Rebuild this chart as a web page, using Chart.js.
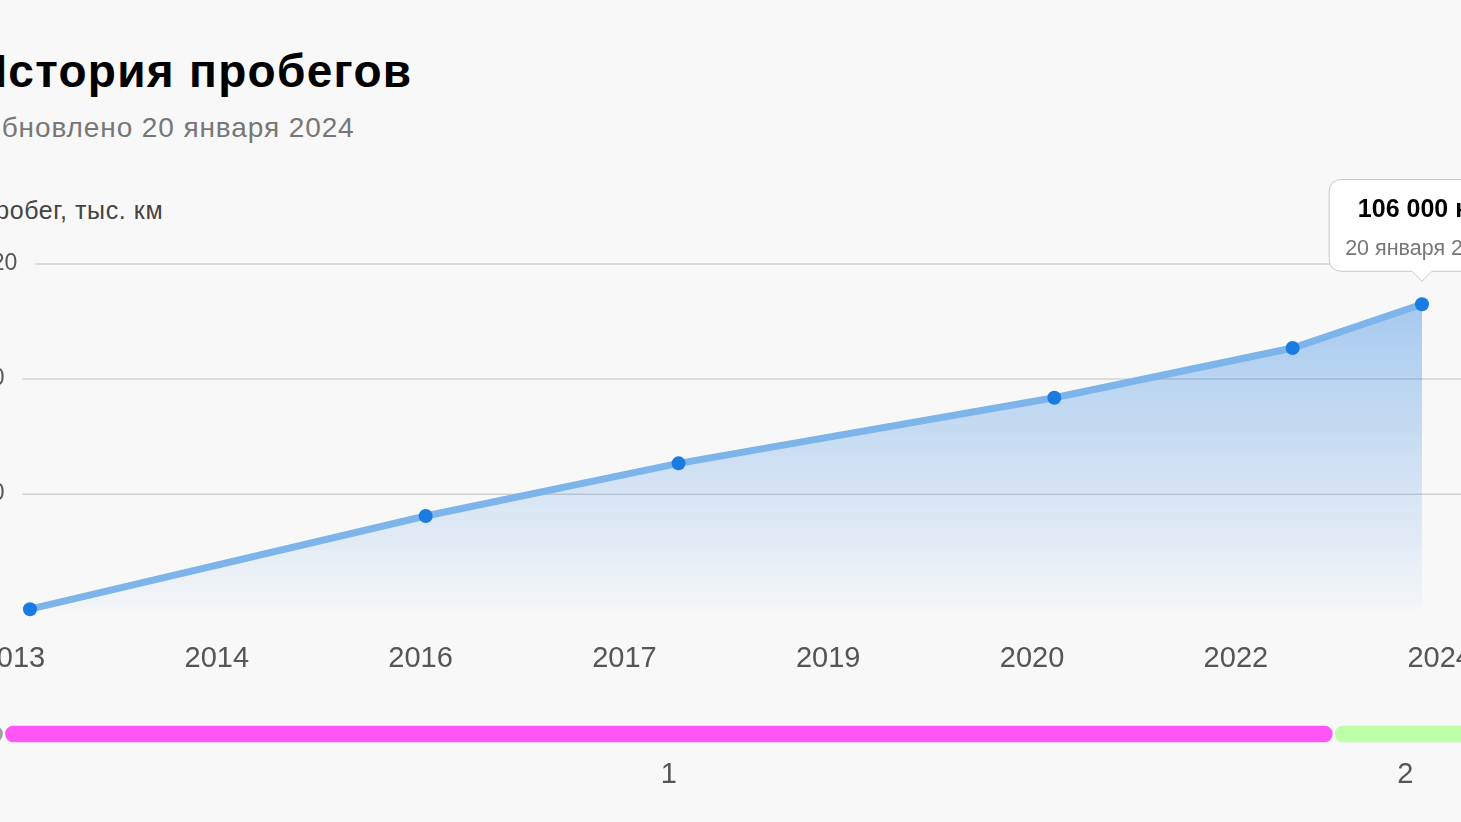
<!DOCTYPE html>
<html lang="ru">
<head>
<meta charset="utf-8">
<title>История пробегов</title>
<script src="https://cdn.jsdelivr.net/npm/chart.js@4.4.1/dist/chart.umd.min.js"></script>
<style>
    html, body {
        margin: 0;
        padding: 0;
        width: 1461px;
        height: 822px;
        overflow: hidden;
        background: #f8f8f8;
    }
    body {
        position: relative;
        font-family: "Liberation Sans", Arial, sans-serif;
    }
    .title {
        position: absolute;
        left: -26px;
        top: 46px;
        margin: 0;
        font-size: 46px;
        line-height: 50px;
        letter-spacing: 1.3px;
        font-weight: bold;
        color: #000;
        white-space: nowrap;
    }
    .updated {
        position: absolute;
        left: -21px;
        top: 112px;
        font-size: 28px;
        line-height: 32px;
        letter-spacing: 0.9px;
        color: #777;
        white-space: nowrap;
    }
    .axis-name {
        position: absolute;
        left: -19px;
        top: 196px;
        font-size: 25px;
        line-height: 28px;
        letter-spacing: 0.6px;
        color: #444;
        white-space: nowrap;
    }
    #mileageChart { position: absolute; left: -100px; top: 160px; }
    #ownersChart { position: absolute; left: -100px; top: 700px; }
</style>
</head>
<body>
<h1 class="title">История пробегов</h1>
<div class="updated">Обновлено 20 января 2024</div>
<div class="axis-name">пробег, тыс. км</div>
<canvas id="mileageChart" width="1700" height="548"></canvas>
<canvas id="ownersChart" width="1700" height="100"></canvas>

<script>
// mileage readings
const readingDates = ["2013-03-16", "2016-04-15", "2018-04-05", "2021-03-10", "2023-01-17", "2024-01-20"];
const mileage = [0, 32.4, 50.7, 73.5, 90.8, 106]; // тыс. км

// axes
const xTickLabels = ["2013", "2014", "2016", "2017", "2019", "2020", "2022", "2024"];
const xTickFirst = 2013.07;
const xTickLast = 2024.19;
const yTicks = [40, 80, 120];

// owners timeline
const ownerLabels = ["", "1", "2"];
const ownerStarts = ["2012-10-01", "2013-01-01", "2023-05-14"];
const ownerEnds = ["2013-01-01", "2023-05-14", "2024-06-25"];
const ownerColors = ["#9ba1a9", "#ff55f6", "#bbffa8"];

const monthsGen = ["января", "февраля", "марта", "апреля", "мая", "июня",
    "июля", "августа", "сентября", "октября", "ноября", "декабря"];

const FONT = '"Liberation Sans", Arial, sans-serif';
const BG = "#f8f8f8";
const X_MIN = 2012.969;
const X_MAX = 2024.66;

function toYear(s) {
    const d = new Date(s + "T00:00:00Z");
    const y = d.getUTCFullYear();
    const start = Date.UTC(y, 0, 1);
    const len = Date.UTC(y + 1, 0, 1) - start;
    return y + (d.getTime() - start) / len;
}

function formatDate(s) {
    const d = new Date(s + "T00:00:00Z");
    return d.getUTCDate() + " " + monthsGen[d.getUTCMonth()] + " " + d.getUTCFullYear();
}

function formatKm(v) {
    return String(Math.round(v * 1000)).replace(/\B(?=(\d{3})+(?!\d))/g, " ") + " км";
}

// y labels sit left-aligned, grid line starts right after the label
const yGrid = {
    id: "yGrid",
    beforeDatasetsDraw(chart) {
        const { ctx, scales: { y } } = chart;
        ctx.save();
        ctx.font = "23px " + FONT;
        ctx.fillStyle = "#555";
        ctx.textAlign = "left";
        ctx.textBaseline = "middle";
        ctx.strokeStyle = "#d2d2d2";
        ctx.lineWidth = 1.5;
        yTicks.forEach(v => {
            const py = y.getPixelForValue(v);
            const label = String(v);
            const w = ctx.measureText(label).width;
            ctx.fillText(label, 79, py);
            ctx.beginPath();
            ctx.moveTo(79 + w + 18, py);
            ctx.lineTo(chart.width, py);
            ctx.stroke();
        });
        ctx.restore();
    }
};

const points = readingDates.map((d, i) => ({ x: toYear(d), y: mileage[i] }));

const mileageChart = new Chart(document.getElementById("mileageChart"), {
    type: "line",
    data: {
        datasets: [{
            data: points,
            borderColor: "#7db4ea",
            borderWidth: 7,
            pointRadius: 7,
            pointHoverRadius: 7,
            pointBackgroundColor: "#1a7be0",
            pointBorderWidth: 0,
            tension: 0,
            clip: false,
            fill: "origin",
            backgroundColor(context) {
                const { ctx, chartArea } = context.chart;
                if (!chartArea) return "rgba(22,119,224,0.2)";
                const g = ctx.createLinearGradient(0, chartArea.top + 40, 0, chartArea.bottom);
                g.addColorStop(0, "rgba(22,119,224,0.36)");
                g.addColorStop(1, "rgba(22,119,224,0.02)");
                return g;
            }
        }]
    },
    options: {
        responsive: false,
        animation: false,
        events: [],
        layout: { padding: { left: 100, right: 100, top: 104, bottom: 0 } },
        scales: {
            x: {
                type: "linear",
                min: X_MIN,
                max: X_MAX,
                grid: { display: false, drawTicks: false },
                border: { display: false },
                afterBuildTicks(scale) {
                    const step = (xTickLast - xTickFirst) / (xTickLabels.length - 1);
                    scale.ticks = xTickLabels.map((_, i) => ({ value: xTickFirst + i * step }));
                },
                ticks: {
                    padding: 32,
                    color: "#555",
                    font: { family: FONT, size: 29 },
                    maxRotation: 0,
                    autoSkip: false,
                    callback: (v, i) => xTickLabels[i]
                }
            },
            y: {
                display: false,
                min: 0,
                max: 120
            }
        },
        plugins: {
            legend: { display: false },
            tooltip: {
                enabled: true,
                backgroundColor: "#fff",
                borderColor: "#c9c9c9",
                borderWidth: 1,
                cornerRadius: 13,
                caretSize: 10,
                caretPadding: 23,
                xAlign: "center",
                yAlign: "bottom",
                displayColors: false,
                padding: { top: 16, bottom: 9, left: 16, right: 16 },
                titleAlign: "center",
                bodyAlign: "center",
                titleColor: "#000",
                bodyColor: "#777",
                titleFont: { family: FONT, size: 25, weight: "bold" },
                bodyFont: { family: FONT, size: 21.5 },
                titleMarginBottom: 11,
                callbacks: {
                    title: items => formatKm(items[0].parsed.y),
                    label: item => formatDate(readingDates[item.dataIndex])
                }
            }
        }
    },
    plugins: [yGrid]
});

// keep the tooltip of the latest reading open
const lastIdx = mileage.length - 1;
const lastPt = mileageChart.getDatasetMeta(0).data[lastIdx];
mileageChart.tooltip.setActiveElements([{ datasetIndex: 0, index: lastIdx }], { x: lastPt.x, y: lastPt.y });
mileageChart.update();

// owner number under each period
const ownerNumbers = {
    id: "ownerNumbers",
    afterDatasetsDraw(chart) {
        const { ctx } = chart;
        ctx.save();
        ctx.font = "29px " + FONT;
        ctx.fillStyle = "#555";
        ctx.textAlign = "center";
        ctx.textBaseline = "middle";
        chart.data.datasets.forEach((ds, i) => {
            const bar = chart.getDatasetMeta(i).data[0];
            if (!bar || !ownerLabels[i]) return;
            ctx.fillText(ownerLabels[i], (bar.x + bar.base) / 2, bar.y + 41);
        });
        ctx.restore();
    }
};

new Chart(document.getElementById("ownersChart"), {
    type: "bar",
    data: {
        labels: ["owners"],
        datasets: ownerLabels.map((lbl, i) => ({
            label: lbl,
            data: [[toYear(ownerStarts[i]), toYear(ownerEnds[i])]],
            backgroundColor: ownerColors[i],
            borderColor: BG,
            borderWidth: 1.5,
            borderSkipped: false,
            borderRadius: 10,
            barThickness: 19,
            grouped: false
        }))
    },
    options: {
        indexAxis: "y",
        responsive: false,
        animation: false,
        events: [],
        layout: { padding: { left: 100, right: 100, top: 0, bottom: 32 } },
        scales: {
            x: { type: "linear", min: X_MIN, max: X_MAX, display: false },
            y: { display: false }
        },
        plugins: { legend: { display: false }, tooltip: { enabled: false } }
    },
    plugins: [ownerNumbers]
});
</script>
</body>
</html>
